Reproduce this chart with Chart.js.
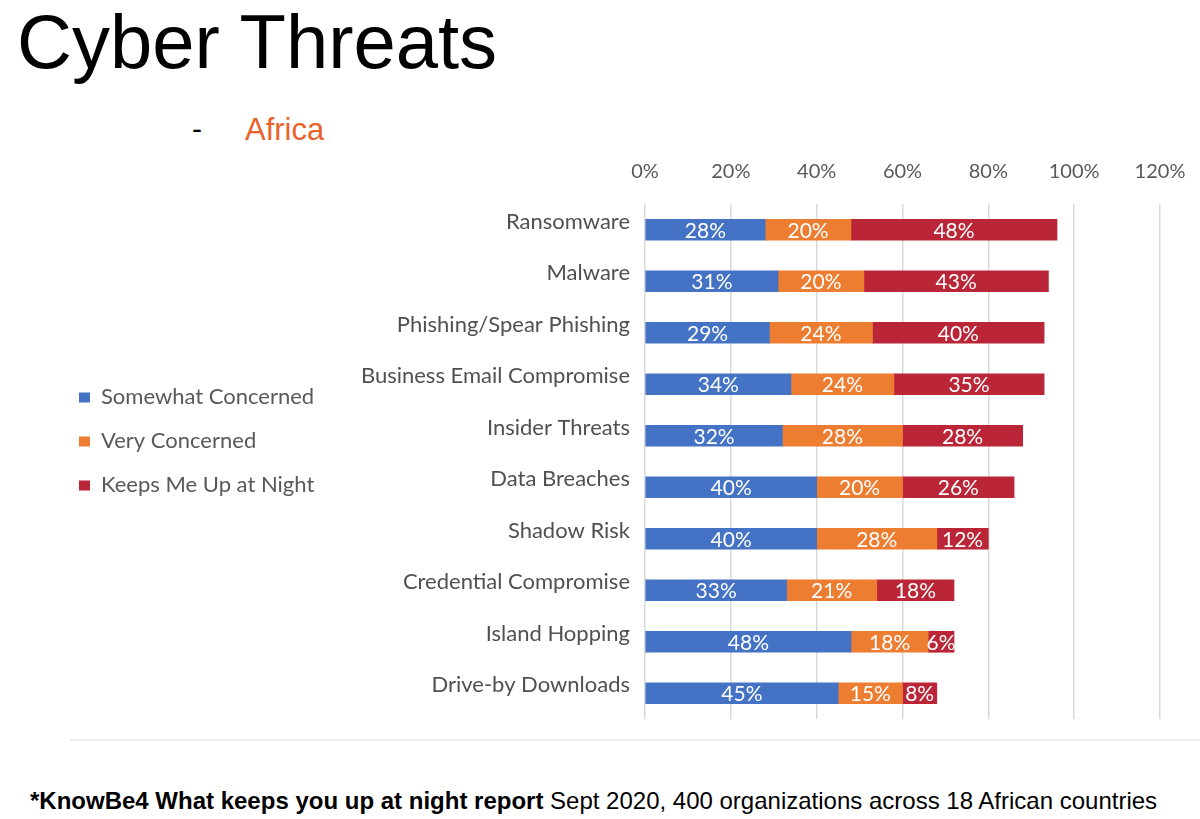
<!DOCTYPE html>
<html>
<head>
<meta charset="utf-8">
<script src="https://cdn.jsdelivr.net/npm/chart.js@4"></script>
<style>
  body { margin: 0; background: #fff; width: 1200px; height: 819px; overflow: hidden; position: relative; font-family: "Liberation Sans", Arial, sans-serif; }
  #title { position: absolute; left: 17px; top: 4px; font-size: 76px; line-height: 76px; color: #000; white-space: nowrap; }
  #dash { position: absolute; left: 192px; top: 114px; font-size: 30px; line-height: 30px; color: #000; }
  #region { position: absolute; left: 245px; top: 114px; font-size: 31px; line-height: 31px; color: #e9622b; }
  #chartBox { position: absolute; left: 0; top: 140px; width: 1200px; height: 600px; }
  #frameLine { position: absolute; left: 70px; top: 739px; width: 1130px; height: 0; border-top: 2px solid #eeeeee; }
  #footer { position: absolute; left: 30px; top: 789px; font-family: "Liberation Sans", Arial, sans-serif; font-size: 24px; line-height: 24px; color: #000; white-space: nowrap; }
</style>
</head>
<body>
<div id="title">Cyber Threats</div>
<div id="dash">-</div>
<div id="region">Africa</div>
<div id="chartBox"><canvas id="chartThreats"></canvas></div>
<div id="frameLine"></div>
<div id="footer"><b>*KnowBe4 What keeps you up at night report</b> Sept 2020, 400 organizations across 18 African countries</div>

<script>
const threats = ["Ransomware", "Malware", "Phishing/Spear Phishing", "Business Email Compromise", "Insider Threats",
    "Data Breaches", "Shadow Risk", "Credential Compromise", "Island Hopping", "Drive-by Downloads"];
const somewhatConcerned = [28, 31, 29, 34, 32, 40, 40, 33, 48, 45];
const veryConcerned = [20, 20, 24, 24, 28, 20, 28, 21, 18, 15];
const keepsMeUp = [48, 43, 40, 35, 28, 26, 12, 18, 6, 8];
const xTicks = [0, 20, 40, 60, 80, 100, 120];

const labelFont = 'Lato, "Open Sans", sans-serif';
const padLeft = 57;

// white % labels in the middle of each segment
const barLabels = {
    id: 'barLabels',
    afterDatasetsDraw(chart) {
        const ctx = chart.ctx;
        ctx.save();
        ctx.font = '21px ' + labelFont;
        ctx.fillStyle = '#ffffff';
        ctx.textAlign = 'center';
        ctx.textBaseline = 'middle';
        chart.data.datasets.forEach(function(ds, i) {
            chart.getDatasetMeta(i).data.forEach(function(bar, j) {
                const p = bar.getProps(['x', 'y', 'base'], true);
                ctx.fillText(ds.data[j] + '%', (p.x + p.base) / 2, p.y + 1);
            });
        });
        ctx.restore();
    }
};

const threatData = {
    labels: threats,
    datasets: [
        { label: "Somewhat Concerned", data: somewhatConcerned, backgroundColor: '#4472c4' },
        { label: "Very Concerned", data: veryConcerned, backgroundColor: '#ed7d31' },
        { label: "Keeps Me Up at Night", data: keepsMeUp, backgroundColor: '#ba2637' }
    ]
};

const chartOptions = {
    indexAxis: 'y',
    responsive: true,
    maintainAspectRatio: false,
    animation: false,
    layout: { padding: { left: padLeft, right: 40, top: 0, bottom: 21 } },
    datasets: { bar: { barThickness: 21, borderWidth: 0 } },
    plugins: {
        tooltip: { enabled: false },
        legend: {
            position: 'left',
            align: 'start',
            title: { display: true, text: ' ', padding: { top: 222, bottom: 0 }, font: { size: 2 } },
            labels: {
                boxWidth: 11,
                boxHeight: 10,
                padding: 22,
                color: '#595959',
                font: { family: labelFont, size: 22 }
            }
        }
    },
    scales: {
        x: {
            position: 'top',
            stacked: true,
            min: 0,
            max: 120,
            afterBuildTicks: function(scale) {
                scale.ticks = xTicks.map(v => ({ value: v }));
            },
            afterFit: function(scale) {
                scale.height = 64;
                scale.paddingLeft = 0;
                scale.paddingRight = 0;
            },
            border: { display: false },
            grid: { color: '#d9d9d9', lineWidth: 1.5, drawTicks: false },
            ticks: {
                padding: 20,
                color: '#595959',
                font: { family: labelFont, size: 20 },
                callback: function(value) { return value + '%'; }
            }
        },
        y: {
            stacked: true,
            border: { display: false },
            grid: { display: false, drawTicks: false },
            afterFit: function(scale) {
                const lw = scale.chart.legend ? scale.chart.legend.width : 0;
                scale.width = 645 - padLeft - lw;
                scale.paddingTop = 0;
                scale.paddingBottom = 0;
            },
            ticks: {
                padding: 15,
                labelOffset: -8,
                color: '#505050',
                font: { family: labelFont, size: 22 }
            }
        }
    }
};

const ctx = document.getElementById('chartThreats').getContext('2d');
new Chart(ctx, {
    type: 'bar',
    data: threatData,
    options: chartOptions,
    plugins: [barLabels]
});
</script>
</body>
</html>
